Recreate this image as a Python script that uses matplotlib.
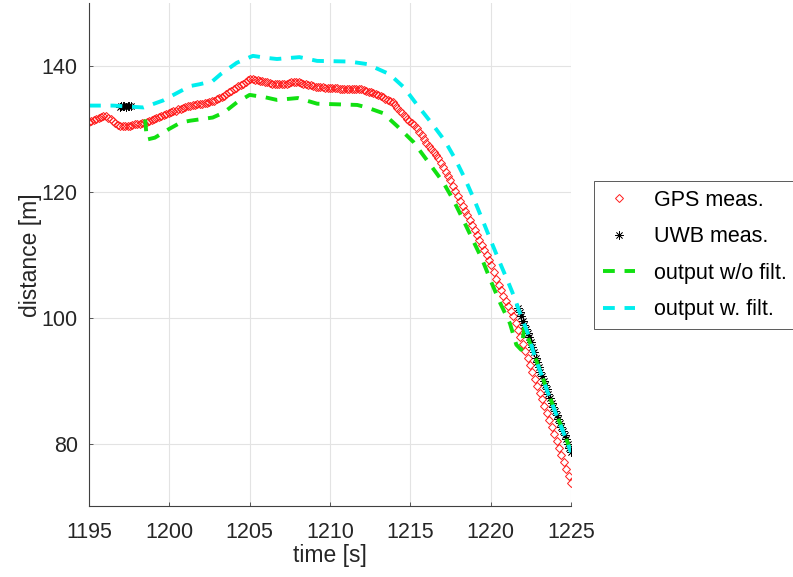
import numpy as np
import matplotlib
matplotlib.use("Agg")
import matplotlib.pyplot as plt

plt.rcParams['font.family'] = ['Liberation Sans', 'DejaVu Sans']
plt.rcParams['lines.scale_dashes'] = False

# GPS distance, sampled every 0.15 s from 1195 s to 1225 s
t_gps = np.round(np.arange(1195.0, 1225.0001, 0.15), 2)
d_gps = [
    131.1, 131.3, 131.4, 131.6, 131.8, 131.9, 132.1, 132.1, 131.8, 131.5,
    131.2, 130.9, 130.6, 130.4, 130.4, 130.4, 130.5, 130.5, 130.6, 130.7,
    130.8, 130.8, 130.9, 131.0, 131.1, 131.3, 131.4, 131.6, 131.8, 131.9,
    132.1, 132.2, 132.4, 132.5, 132.7, 132.8, 132.9, 133.1, 133.2, 133.3,
    133.4, 133.6, 133.7, 133.8, 133.8, 133.9, 133.9, 134.0, 134.1, 134.1,
    134.2, 134.4, 134.5, 134.7, 134.9, 135.1, 135.3, 135.6, 135.8, 136.0,
    136.3, 136.5, 136.8, 137.0, 137.2, 137.5, 137.7, 137.9, 137.9, 137.8,
    137.7, 137.6, 137.6, 137.5, 137.4, 137.3, 137.2, 137.2, 137.1, 137.1,
    137.1, 137.1, 137.2, 137.3, 137.4, 137.4, 137.5, 137.4, 137.3, 137.2,
    137.1, 137.0, 136.9, 136.8, 136.7, 136.6, 136.6, 136.6, 136.5, 136.5,
    136.5, 136.5, 136.5, 136.5, 136.4, 136.4, 136.4, 136.4, 136.4, 136.4,
    136.3, 136.3, 136.3, 136.3, 136.1, 136.0, 135.9, 135.8, 135.7, 135.5,
    135.4, 135.2, 135.0, 134.8, 134.6, 134.4, 134.2, 133.8, 133.3, 132.9,
    132.5, 132.0, 131.6, 131.3, 131.0, 130.6, 130.1, 129.5, 129.0, 128.4,
    127.8, 127.3, 126.8, 126.3, 125.8, 125.3, 124.6, 123.9, 123.2, 122.5,
    121.8, 121.0, 120.2, 119.4, 118.6, 117.8, 117.0, 116.3, 115.5, 114.7,
    113.9, 113.1, 112.3, 111.5, 110.7, 109.9, 109.1, 108.3, 107.2, 106.2,
    105.2, 104.4, 103.5, 102.7, 101.9, 101.0, 100.2, 99.1, 98.0, 96.9,
    95.8, 94.7, 93.6, 92.5, 91.4, 90.3, 89.2, 88.1, 87.0, 85.9,
    84.8, 83.7, 82.6, 81.5, 80.4, 79.3, 78.2, 77.1, 76.0, 74.9,
    73.8,
]

# UWB measurements (two short bursts)
t_uwb = [1196.9, 1197.0, 1197.1, 1197.2, 1197.3, 1197.4, 1197.5, 1197.6,
         1221.7, 1221.8, 1221.9, 1222.0, 1222.1, 1222.2, 1222.3, 1222.4,
         1222.5, 1222.6, 1222.7, 1222.8, 1222.9, 1223.0, 1223.1, 1223.2,
         1223.3, 1223.4, 1223.5, 1223.6, 1223.7, 1223.8, 1223.9, 1224.0,
         1224.1, 1224.2, 1224.3, 1224.4, 1224.5, 1224.6, 1224.7, 1224.8,
         1224.9, 1225.0]
d_uwb = [133.5, 133.7, 133.6, 133.6, 133.5, 133.7, 133.6, 133.6,
         101.6, 100.9, 100.2, 99.5, 98.9, 98.2, 97.6, 96.9,
         96.1, 95.3, 94.5, 93.6, 92.9, 92.2, 91.4, 90.7,
         90.0, 89.3, 88.6, 87.8, 87.2, 86.5, 85.8, 85.2,
         84.5, 83.9, 83.3, 82.6, 82.0, 81.4, 80.7, 80.0,
         79.3, 78.6]

# output without filter
t_nof = [1198.5, 1198.6, 1199.1, 1200.0, 1200.7, 1201.3, 1202.7, 1203.4,
         1204.2, 1205.0, 1206.0, 1206.7, 1208.0, 1209.2, 1210.5, 1211.7,
         1212.3, 1213.3, 1214.2, 1215.2, 1216.1, 1217.05, 1217.7, 1218.3,
         1218.9, 1219.5, 1220.0, 1220.6, 1221.2, 1221.6, 1221.9, 1222.1,
         1222.75, 1223.6, 1224.15, 1224.7, 1225.0]
d_nof = [131.5, 128.3, 128.6, 130.0, 131.0, 131.3, 131.8, 132.6,
         134.2, 135.4, 135.0, 134.6, 134.9, 134.0, 133.9, 133.8,
         133.4, 132.5, 130.4, 127.9, 124.8, 121.5, 118.6, 115.5,
         112.3, 109.1, 105.9, 102.3, 99.1, 95.7, 94.9, 98.4,
         93.9, 87.9, 84.3, 80.8, 78.7]

# output with filter
t_filt = [1195.0, 1196.5, 1198.4, 1199.6, 1200.7, 1201.3, 1201.9, 1202.7,
          1203.2, 1204.2, 1205.2, 1206.0, 1206.7, 1208.1, 1209.2, 1211.2,
          1212.3, 1213.7, 1214.6, 1215.4, 1216.3, 1217.15, 1217.8, 1218.4,
          1219.0, 1219.5, 1220.05, 1220.6, 1221.1, 1221.5, 1221.8, 1222.35,
          1222.75, 1223.2, 1223.6, 1224.15, 1224.7, 1225.0]
d_filt = [133.7, 133.7, 133.4, 134.5, 136.0, 136.8, 137.1, 137.6,
          138.7, 140.5, 141.6, 141.3, 141.1, 141.4, 140.8, 140.7,
          140.3, 138.7, 136.6, 133.9, 131.0, 128.1, 125.2, 122.1,
          118.6, 115.5, 112.0, 108.6, 105.6, 103.1, 100.9, 97.3,
          93.8, 90.7, 87.8, 84.2, 80.7, 78.6]

fig = plt.figure(figsize=(7.93, 5.77), dpi=100)
ax = fig.add_axes([0.1122, 0.1222, 0.6078, 0.8726])

ax.plot(t_gps, d_gps, linestyle='none', marker='D', markersize=4.3,
        markerfacecolor='none', markeredgecolor='#ff1a1a', markeredgewidth=0.7,
        label='GPS meas.')
ax.plot(t_uwb, d_uwb, linestyle='none', marker=(8, 2, 0), markersize=6,
        color='black', markeredgewidth=0.5, label='UWB meas.')
ax.plot(t_nof, d_nof, color='#11e011', linewidth=2.8, dashes=(8.5, 7),
        label='output w/o filt.')
ax.plot(t_filt, d_filt, color='#00eeee', linewidth=2.8, dashes=(8.5, 7),
        label='output w. filt.')

ax.set_xlim(1195, 1225)
ax.set_ylim(70, 150)
ax.set_xticks([1195, 1200, 1205, 1210, 1215, 1220, 1225])
ax.set_yticks([80, 100, 120, 140])
ax.grid(True, color='#e3e3e3', linewidth=0.8)
ax.set_axisbelow(True)
for s in ['top', 'right']:
    ax.spines[s].set_visible(False)
for s in ['left', 'bottom']:
    ax.spines[s].set_color('#404040')
    ax.spines[s].set_linewidth(0.8)
ax.tick_params(direction='in', length=3, width=0.6, colors='#404040',
               labelcolor='#262626', labelsize=15.5)
ax.tick_params(axis='x', pad=11)
ax.tick_params(axis='y', pad=8)

ax.set_xlabel('time [s]', fontsize=16.5, color='#262626', labelpad=1)
ax.set_ylabel('distance [m]', fontsize=16.5, color='#262626', labelpad=0)

leg = fig.legend(loc='upper left', bbox_to_anchor=(0.749, 0.686),
                 borderaxespad=0, fontsize=15.5, frameon=True, fancybox=False,
                 framealpha=1, edgecolor='#404040', numpoints=1,
                 handlelength=1.5, handletextpad=0.9, labelspacing=0.72,
                 borderpad=0.4)
leg.get_frame().set_linewidth(0.6)

fig.savefig('out.png', dpi=100)
